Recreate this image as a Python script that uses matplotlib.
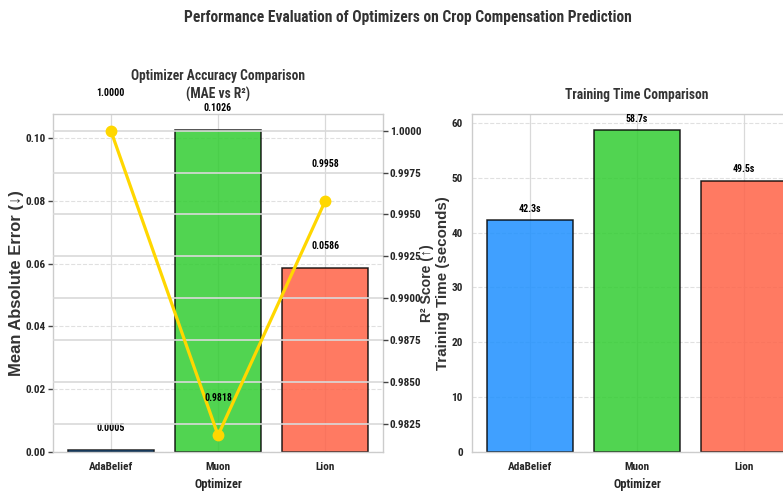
import matplotlib
matplotlib.use("Agg")
import matplotlib.pyplot as plt
from matplotlib import font_manager as fm
import numpy as np

optimizers = ["AdaBelief", "Muon", "Lion"]
mae_values = [0.0005, 0.1026, 0.0586]
r2_values = [1.0000, 0.9818, 0.9958]
train_times = [42.3, 58.7, 49.5]
bar_colors = ["#1E90FF", "#32CD32", "#FF6347"]


def find_font(prio):
    ents = []
    for f in fm.fontManager.ttflist:
        base = f.fname.lower().replace(" ", "").replace("_", "").rsplit("/", 1)[-1]
        if "bold" in base and not any(k in base for k in
                                      ("italic", "oblique", "extrabold", "semibold", "black")):
            ents.append((base, f.fname))
    for p in prio:
        for base, path in ents:
            if p in base:
                return path
    return None


NARROW_PATH = find_font(["liberationsansnarrow", "robotocondensed", "dejavusanscondensed",
                         "opensanscondensed", "notosanscondensed", "condensed", "narrow"])
WIDE_PATH = find_font(["liberationsans-bold", "liberationsansbold", "arimo-bold",
                       "dejavusans-bold"])


def base_narrow(size=10):
    if NARROW_PATH:
        return fm.FontProperties(fname=NARROW_PATH, size=size)
    return fm.FontProperties(family=["Liberation Sans", "DejaVu Sans"], weight="bold", size=size)


def base_wide(size=10):
    if WIDE_PATH:
        return fm.FontProperties(fname=WIDE_PATH, size=size)
    return fm.FontProperties(family=["DejaVu Sans"], weight="bold", size=size)


TXT = "#262626"
GRID = "#d9d9d9"
plt.rcParams["axes.unicode_minus"] = False

fig = plt.figure(figsize=(7.83, 4.92), dpi=100)
fig.patch.set_facecolor("white")
renderer = fig.canvas.get_renderer()


def fitted(s, target_px, maker):
    p = maker(10)
    t = fig.text(0, 0, s, fontproperties=p)
    w = t.get_window_extent(renderer).width
    t.remove()
    return maker(10 * target_px / w)


FP_SUP = fitted("Performance Evaluation of Optimizers on Crop Compensation Prediction", 448, base_narrow)
FP_TITLE = fitted("Training Time Comparison", 144, base_narrow)
FP_TICK = fitted("AdaBelief", 44, base_narrow)
FP_VAL = fitted("0.1026", 28, base_narrow)
FP_XLAB = fitted("Optimizer", 48, base_narrow)
FP_YL_MAE = fitted("Mean Absolute Error (↓)", 186, base_wide)
FP_YL_R2 = fitted("R² Score (↑)", 78, base_wide)
FP_YL_TT = fitted("Training Time (seconds)", 174, base_wide)

ax1 = fig.add_axes([0.0677, 0.0813, 0.4215, 0.687])
ax3 = fig.add_axes([0.6028, 0.0813, 0.4215, 0.687])

x = np.arange(len(optimizers))


def style(ax):
    for s in ax.spines.values():
        s.set_color("#cccccc")
        s.set_linewidth(1.0)
    ax.set_axisbelow(True)


def set_tick_fonts(ax):
    for lab in ax.get_xticklabels() + ax.get_yticklabels():
        lab.set_fontproperties(FP_TICK)
        lab.set_color(TXT)


# ---- left: MAE bars + R2 line ----
style(ax1)
ax1.grid(True, axis="x", color=GRID, linewidth=0.9)
ax1.grid(True, axis="y", color=GRID, linestyle="--", linewidth=0.8, alpha=0.8)
ax1.bar(x, mae_values, width=0.8, color=bar_colors, alpha=0.85,
        edgecolor="black", linewidth=1.1)
ax1.set_ylim(0, max(mae_values) * 1.05)
ax1.set_xticks(x)
ax1.set_xticklabels(optimizers)
ax1.set_yticks([0.0, 0.02, 0.04, 0.06, 0.08, 0.10])
ax1.set_yticklabels(["0.00", "0.02", "0.04", "0.06", "0.08", "0.10"])
ax1.tick_params(axis="x", length=0, pad=7)
ax1.tick_params(axis="y", length=3.5, width=1, color="#444444", pad=1.5)
set_tick_fonts(ax1)
ax1.set_ylabel("Mean Absolute Error (↓)", fontproperties=FP_YL_MAE, color="#333333")
ax1.yaxis.set_label_coords(-0.088, 0.5)
ax1.set_xlabel("Optimizer", fontproperties=FP_XLAB, color=TXT)
ax1.xaxis.set_label_coords(0.5, -0.077)
ax1.set_title("Optimizer Accuracy Comparison\n(MAE vs R²)", fontproperties=FP_TITLE,
              color="#333333", pad=11, linespacing=1.35)
for xi, v in zip(x, mae_values):
    ax1.annotate(f"{v:.4f}", (xi, v), xytext=(0, 16), textcoords="offset points",
                 ha="center", va="center", fontproperties=FP_VAL, color="black")

ax2 = ax1.twinx()
for s in ax2.spines.values():
    s.set_visible(False)
ax2.grid(True, axis="y", color=GRID, linewidth=1.2)
ax2.plot(x, r2_values, color="#FFD700", linewidth=2.3, marker="o", markersize=7.5)
ax2.set_ylim(min(r2_values) - 0.001, max(r2_values) + 0.001)
r2_ticks = [0.9825, 0.985, 0.9875, 0.99, 0.9925, 0.995, 0.9975, 1.0]
ax2.set_yticks(r2_ticks)
ax2.set_yticklabels([f"{t:.4f}" for t in r2_ticks])
ax2.tick_params(axis="y", length=3.5, width=1, color="#444444", pad=1.5)
set_tick_fonts(ax2)
ax2.set_ylabel("R² Score (↑)", fontproperties=FP_YL_R2, color="#333333")
ax2.yaxis.set_label_coords(1.112, 0.5)
for xi, v in zip(x, r2_values):
    ax2.annotate(f"{v:.4f}", (xi, v), xytext=(0, 27), textcoords="offset points",
                 ha="center", va="center", fontproperties=FP_VAL, color="black")

# ---- right: training time ----
style(ax3)
ax3.grid(True, axis="x", color=GRID, linewidth=0.9)
ax3.grid(True, axis="y", color=GRID, linestyle="--", linewidth=0.8, alpha=0.8)
ax3.bar(x, train_times, width=0.8, color=bar_colors, alpha=0.85,
        edgecolor="black", linewidth=1.1)
ax3.set_ylim(0, max(train_times) * 1.05)
ax3.set_xticks(x)
ax3.set_xticklabels(optimizers)
ax3.set_yticks([0, 10, 20, 30, 40, 50, 60])
ax3.set_yticklabels(["0", "10", "20", "30", "40", "50", "60"])
ax3.tick_params(axis="x", length=0, pad=7)
ax3.tick_params(axis="y", length=0, pad=6.5)
set_tick_fonts(ax3)
ax3.set_ylabel("Training Time (seconds)", fontproperties=FP_YL_TT, color="#333333")
ax3.yaxis.set_label_coords(-0.067, 0.5)
ax3.set_xlabel("Optimizer", fontproperties=FP_XLAB, color=TXT)
ax3.xaxis.set_label_coords(0.5, -0.077)
ax3.set_title("Training Time Comparison", fontproperties=FP_TITLE,
              color="#333333", pad=11)
for xi, v in zip(x, train_times):
    ax3.annotate(f"{v:.1f}s", (xi, v), xytext=(0, 8), textcoords="offset points",
                 ha="center", va="center", fontproperties=FP_VAL, color="black")

fig.suptitle("Performance Evaluation of Optimizers on Crop Compensation Prediction",
             fontproperties=FP_SUP, color="#333333", x=0.5204, y=0.979)

fig.savefig("out.png", dpi=100, facecolor="white")
